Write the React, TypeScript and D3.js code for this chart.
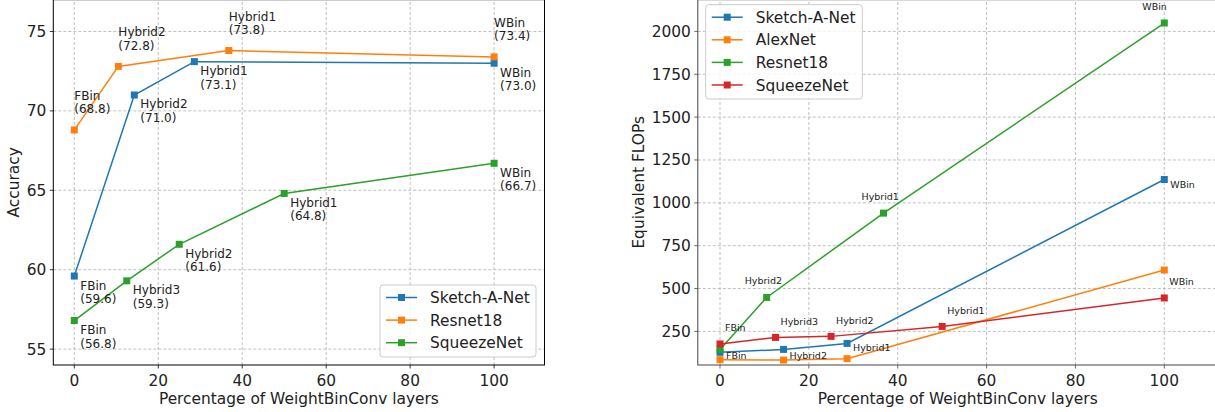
import React, {useEffect, useRef} from 'react';
import * as d3 from 'd3';

// ---- accuracy chart (left) ----
const accSketchX = [0, 14.3, 28.6, 100];
const accSketchY = [59.6, 71.0, 73.1, 73.0];
const accSketchLabels = ["FBin", "Hybrid2", "Hybrid1", "WBin"];

const accResnetX = [0, 10.5, 36.8, 100];
const accResnetY = [68.8, 72.8, 73.8, 73.4];
const accResnetLabels = ["FBin", "Hybrid2", "Hybrid1", "WBin"];

const accSqueezeX = [0, 12.5, 25, 50, 100];
const accSqueezeY = [56.8, 59.3, 61.6, 64.8, 66.7];
const accSqueezeLabels = ["FBin", "Hybrid3", "Hybrid2", "Hybrid1", "WBin"];

const accYTicks = [55, 60, 65, 70, 75];

// ---- flops chart (right) ----
const flopSketchX = [0, 14.3, 28.6, 100];
const flopSketchY = [128, 145, 180, 1136];
const flopSketchLabels = ["", "", "Hybrid1", "WBin"];

const flopAlexX = [0, 14.3, 28.6, 100];
const flopAlexY = [85, 83, 91, 608];
const flopAlexLabels = ["FBin", "Hybrid2", "", ""];

const flopResnetX = [0, 10.5, 36.8, 100];
const flopResnetY = [145, 448, 940, 2049];
const flopResnetLabels = ["", "Hybrid2", "Hybrid1", "WBin"];

const flopSqueezeX = [0, 12.5, 25, 50, 100];
const flopSqueezeY = [177, 215, 221, 279, 445];
const flopSqueezeLabels = ["FBin", "Hybrid3", "Hybrid2", "Hybrid1", "WBin"];

const flopYTicks = [250, 500, 750, 1000, 1250, 1500, 1750, 2000];

const xTicks = [0, 20, 40, 60, 80, 100];

const blue = "#1f77b4", orange = "#ff7f0e", green = "#2ca02c", red = "#d62728";
const font = "DejaVu Sans, sans-serif";
const bigFont = "15.4px";

const App = () => {
    const anchor = useRef(null);

    useEffect(() => {
        const svg = d3.select(anchor.current);
        svg.selectAll("*").remove();

        const zip = (xs, ys, ls) => xs.map((x, i) => ({x: x, y: ys[i], label: ls[i]}));

        drawChart({
            xRange: [53.3, 544.5], yRange: [365, -0.3], yDomain: [54, 77],
            yTicks: accYTicks, spine: "#000", ylabel: "Accuracy", ylabelX: 19,
            labelSize: 12, twoLine: true,
            series: [
                {name: "Sketch-A-Net", color: blue, pts: zip(accSketchX, accSketchY, accSketchLabels), off: [6, 13.5]},
                {name: "Resnet18", color: orange, pts: zip(accResnetX, accResnetY, accResnetLabels), off: [0, -30]},
                {name: "SqueezeNet", color: green, pts: zip(accSqueezeX, accSqueezeY, accSqueezeLabels), off: [6, 13.5]}
            ],
            legend: {x: 380, y: 285, w: 156, h: 72}
        });

        drawChart({
            xRange: [697.8, 1217.6], yRange: [365, -0.3], yDomain: [54, 2185],
            yTicks: flopYTicks, spine: "#444", ylabel: "Equivalent FLOPs", ylabelX: 643.5,
            labelSize: 9.5, twoLine: false,
            series: [
                {name: "Sketch-A-Net", color: blue, pts: zip(flopSketchX, flopSketchY, flopSketchLabels), off: [6, 8]},
                {name: "AlexNet", color: orange, pts: zip(flopAlexX, flopAlexY, flopAlexLabels), off: [6, -1]},
                {name: "Resnet18", color: green, pts: zip(flopResnetX, flopResnetY, flopResnetLabels), off: [-22, -13]},
                {name: "SqueezeNet", color: red, pts: zip(flopSqueezeX, flopSqueezeY, flopSqueezeLabels), off: [5, -12.5]}
            ],
            legend: {x: 705.7, y: 4.7, w: 156.6, h: 94.3}
        });

        //----- FUNCTION DEFINITIONS -----//
        function drawChart(cfg) {
            const x = d3.scaleLinear().domain([-5, 112]).range(cfg.xRange);
            const y = d3.scaleLinear().domain(cfg.yDomain).range(cfg.yRange);
            const g = svg.append("g");
            const [x0, x1] = cfg.xRange;
            const [yb, yt] = cfg.yRange;

            // grid
            g.selectAll(".vgrid").data(xTicks).enter().append("line")
                .attr("x1", d => x(d)).attr("x2", d => x(d))
                .attr("y1", yb).attr("y2", yt)
                .attr("stroke", "#b0b0b0").attr("stroke-width", 0.8)
                .attr("stroke-dasharray", "3,2");
            g.selectAll(".hgrid").data(cfg.yTicks).enter().append("line")
                .attr("x1", x0).attr("x2", x1)
                .attr("y1", d => y(d)).attr("y2", d => y(d))
                .attr("stroke", "#b0b0b0").attr("stroke-width", 0.8)
                .attr("stroke-dasharray", "3,2");

            // spines
            g.append("rect")
                .attr("x", x0).attr("y", yt).attr("width", x1 - x0).attr("height", yb - yt)
                .attr("fill", "none").attr("stroke", cfg.spine).attr("stroke-width", 1);

            // x ticks
            const xt = g.selectAll(".xt").data(xTicks).enter().append("g");
            xt.append("line")
                .attr("x1", d => x(d)).attr("x2", d => x(d))
                .attr("y1", yb).attr("y2", yb + 3.5)
                .attr("stroke", cfg.spine).attr("stroke-width", 0.8);
            xt.append("text")
                .attr("x", d => x(d)).attr("y", yb + 20.5)
                .attr("text-anchor", "middle")
                .style("font-family", font).style("font-size", bigFont).attr("fill", "#222")
                .text(d => d);

            // y ticks
            const ytk = g.selectAll(".yt").data(cfg.yTicks).enter().append("g");
            ytk.append("line")
                .attr("x1", x0 - 3.5).attr("x2", x0)
                .attr("y1", d => y(d)).attr("y2", d => y(d))
                .attr("stroke", cfg.spine).attr("stroke-width", 0.8);
            ytk.append("text")
                .attr("x", x0 - 7).attr("y", d => y(d) + 5.5)
                .attr("text-anchor", "end")
                .style("font-family", font).style("font-size", bigFont).attr("fill", "#222")
                .text(d => d);

            // axis labels
            g.append("text")
                .attr("x", (x0 + x1) / 2).attr("y", 404)
                .attr("text-anchor", "middle")
                .style("font-family", font).style("font-size", bigFont).attr("fill", "#222")
                .text("Percentage of WeightBinConv layers");
            g.append("text")
                .attr("transform", "translate(" + cfg.ylabelX + "," + (yb + yt) / 2 + ") rotate(-90)")
                .attr("text-anchor", "middle")
                .style("font-family", font).style("font-size", bigFont).attr("fill", "#222")
                .text(cfg.ylabel);

            // series
            const line = d3.line().x(d => x(d.x)).y(d => y(d.y));
            cfg.series.forEach(s => {
                g.append("path").datum(s.pts)
                    .attr("d", line).attr("fill", "none")
                    .attr("stroke", s.color).attr("stroke-width", 1.5);
                g.selectAll(null).data(s.pts).enter().append("rect")
                    .attr("x", d => x(d.x) - 3.5).attr("y", d => y(d.y) - 3.5)
                    .attr("width", 7).attr("height", 7)
                    .attr("fill", s.color);
            });

            // annotations
            cfg.series.forEach(s => {
                s.pts.filter(d => d.label !== "").forEach(d => {
                    const t = g.append("text")
                        .attr("x", x(d.x) + s.off[0]).attr("y", y(d.y) + s.off[1])
                        .style("font-family", font).style("font-size", cfg.labelSize + "px")
                        .attr("fill", "#222");
                    t.append("tspan").text(d.label);
                    if (cfg.twoLine) {
                        t.append("tspan")
                            .attr("x", x(d.x) + s.off[0]).attr("dy", 13.5)
                            .text("(" + d.y.toFixed(1) + ")");
                    }
                });
            });

            // legend
            const L = cfg.legend;
            g.append("rect")
                .attr("x", L.x).attr("y", L.y).attr("width", L.w).attr("height", L.h)
                .attr("rx", 3).attr("fill", "#fff").attr("fill-opacity", 0.8)
                .attr("stroke", "#cccccc").attr("stroke-width", 1);
            cfg.series.forEach((s, i) => {
                const cy = L.y + 12.5 + i * 22.6;
                g.append("line")
                    .attr("x1", L.x + 6).attr("x2", L.x + 37)
                    .attr("y1", cy).attr("y2", cy)
                    .attr("stroke", s.color).attr("stroke-width", 1.5);
                g.append("rect")
                    .attr("x", L.x + 21.5 - 3.5).attr("y", cy - 3.5)
                    .attr("width", 7).attr("height", 7).attr("fill", s.color);
                g.append("text")
                    .attr("x", L.x + 50).attr("y", cy + 5.5)
                    .style("font-family", font).style("font-size", bigFont).attr("fill", "#222")
                    .text(s.name);
            });
        }
    }, []);

    return <svg ref={anchor} width={1215} height={412}
                style={{position: "absolute", left: 0, top: 0, background: "#fff"}}/>;
};

export default App;
